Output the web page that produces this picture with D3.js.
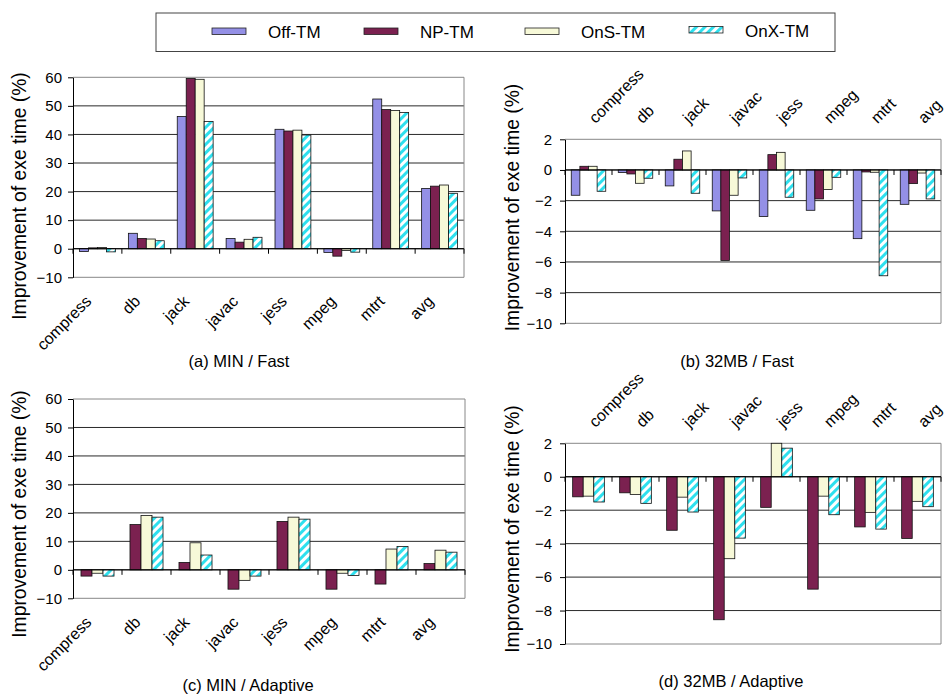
<!DOCTYPE html>
<html><head><meta charset="utf-8">
<script src="https://cdn.jsdelivr.net/npm/d3@7"></script>
<style>body{margin:0;background:#fff;} svg{display:block;font-family:"Liberation Sans",Arial,sans-serif;}</style>
</head><body><svg id="c" width="948" height="694"></svg>
<script>
// ---------- data ----------
const categories = ["compress","db","jack","javac","jess","mpeg","mtrt","avg"];
const seriesNames = ["Off-TM","NP-TM","OnS-TM","OnX-TM"];
const yTicksMin = [-10,0,10,20,30,40,50,60];
const yTicks32 = [-10,-8,-6,-4,-2,0,2];
// (a) MIN / Fast
const aOff = [-1.0, 5.4, 46.3, 3.6, 41.8, -1.3, 52.4, 21.1];
const aNP  = [ 0.3, 3.6, 59.6, 2.3, 41.2, -2.6, 48.7, 21.9];
const aOnS = [ 0.4, 3.4, 59.3, 3.3, 41.5, -0.6, 48.4, 22.3];
const aOnX = [-1.1, 2.8, 44.5, 4.0, 39.8, -1.2, 47.7, 19.4];
// (b) 32MB / Fast
const bOff = [-1.65, -0.17, -1.04, -2.67, -3.04, -2.63, -4.48, -2.24];
const bNP  = [ 0.24, -0.26,  0.70, -5.90,  1.00, -1.89, -0.13, -0.89];
const bOnS = [ 0.24, -0.87,  1.24, -1.65,  1.15, -1.28, -0.15, -0.20];
const bOnX = [-1.39, -0.54, -1.52, -0.52, -1.78, -0.48, -6.90, -1.89];
// (c) MIN / Adaptive
const cNP  = [-2.2, 15.9, 2.6, -6.8, 17.0, -6.8, -5.0, 2.2];
const cOnS = [-1.2, 19.1, 9.5, -3.7, 18.5, -1.2,  7.3, 6.9];
const cOnX = [-2.2, 18.5, 5.2, -2.2, 17.8, -2.0,  8.2, 6.2];
// (d) 32MB / Adaptive
const dNP  = [-1.20, -0.96, -3.20, -8.55, -1.83, -6.72, -3.00, -3.69];
const dOnS = [-1.16, -1.06, -1.22, -4.90,  2.00, -1.16, -2.13, -1.47];
const dOnX = [-1.51, -1.59, -2.11, -3.67,  1.71, -2.27, -3.13, -1.79];
const captions = ["(a) MIN / Fast","(b) 32MB / Fast","(c) MIN / Adaptive","(d) 32MB / Adaptive"];
const yTitle = "Improvement of exe time (%)";

// ---------- styles ----------
const colors = {"Off-TM":"#9490e6","NP-TM":"#7b2150","OnS-TM":"#f7f9d8","OnX-TM":"url(#stripes)"};
const svg = d3.select("#c");
const defs = svg.append("defs");
const pat = defs.append("pattern").attr("id","stripes").attr("patternUnits","userSpaceOnUse")
  .attr("width",6).attr("height",6).attr("patternTransform","rotate(45)");
pat.append("rect").attr("width",6).attr("height",6).attr("fill","#ffffff");
pat.append("rect").attr("width",3).attr("height",6).attr("fill","#2ee0ee");

// ---------- legend ----------
const legendX = [212, 364, 525, 689];
svg.append("rect").attr("x",156).attr("y",13).attr("width",679).attr("height",38.5)
  .attr("fill","#fff").attr("stroke","#444").attr("stroke-width",1);
seriesNames.forEach((s,i)=>{
  const yOff = i===3 ? -1.5 : 0;
  svg.append("rect").attr("x",legendX[i]).attr("y",28+yOff).attr("width",34).attr("height",6.5)
    .attr("fill",colors[s]).attr("stroke","#222").attr("stroke-width",0.8);
  svg.append("text").attr("x",legendX[i]+56).attr("y",38.3+yOff).attr("font-size",17).attr("fill","#000").text(s);
});

// ---------- panels ----------
const panels = [
  {left:73, right:464, top:77.3, bottom:277.3, domain:[-10,60], ticks:yTicksMin, below:true,
   series:[["Off-TM",aOff],["NP-TM",aNP],["OnS-TM",aOnS],["OnX-TM",aOnX]],
   title:[26,196], cap:[239,367], pad:6, caption:captions[0]},
  {left:565, right:941, top:139.3, bottom:323.3, domain:[-10,2], ticks:yTicks32, below:false,
   series:[["Off-TM",bOff],["NP-TM",bNP],["OnS-TM",bOnS],["OnX-TM",bOnX]],
   title:[519,207.5], cap:[737,367], pad:8, caption:captions[1]},
  {left:73, right:465, top:399, bottom:598.3, domain:[-10,60], ticks:yTicksMin, below:true,
   series:[["NP-TM",cNP],["OnS-TM",cOnS],["OnX-TM",cOnX]],
   title:[26,514], cap:[248,691], pad:6, caption:captions[2]},
  {left:565, right:941, top:443.3, bottom:644, domain:[-10,2], ticks:yTicks32, below:false,
   series:[["NP-TM",dNP],["OnS-TM",dOnS],["OnX-TM",dOnX]],
   title:[519,529], cap:[731,687], pad:8, caption:captions[3]}
];

panels.forEach(p=>{
  const g = svg.append("g");
  const y = d3.scaleLinear().domain(p.domain).range([p.bottom,p.top]);
  const x0 = d3.scaleBand().domain(categories).range([p.left,p.right]).padding(0);
  const bw = x0.bandwidth();
  const n = p.series.length;
  const groupW = bw*n/(n+1.45);
  const x1 = d3.scaleBand().domain(p.series.map(s=>s[0])).range([(bw-groupW)/2,(bw+groupW)/2]).padding(0);

  // gridlines
  g.selectAll("line.grid").data(p.ticks.filter(t=>t!==p.domain[0])).enter().append("line")
    .attr("x1",p.left).attr("x2",p.right).attr("y1",d=>y(d)).attr("y2",d=>y(d))
    .attr("stroke",d=>d===p.domain[1]?"#888":"#2a2a2a").attr("stroke-width",1);
  // bottom & right border
  g.append("line").attr("x1",p.left).attr("x2",p.right).attr("y1",y(p.domain[0])).attr("y2",y(p.domain[0]))
    .attr("stroke","#888");
  g.append("line").attr("x1",p.right).attr("x2",p.right).attr("y1",y(p.domain[1])).attr("y2",y(p.domain[0]))
    .attr("stroke","#888");

  // bars
  p.series.forEach(([name,vals])=>{
    g.selectAll(null).data(vals).enter().append("rect")
      .attr("x",(d,i)=>x0(categories[i])+x1(name))
      .attr("width",x1.bandwidth())
      .attr("y",d=>y(Math.max(0,d)))
      .attr("height",d=>Math.abs(y(d)-y(0)))
      .attr("fill",colors[name]).attr("stroke","#111").attr("stroke-width",0.8);
  });

  // zero line with category ticks
  g.append("line").attr("x1",p.left).attr("x2",p.right).attr("y1",y(0)).attr("y2",y(0))
    .attr("stroke","#000").attr("stroke-width",1);
  const bounds = categories.map(c=>x0(c)).concat([p.right]);
  g.selectAll(null).data(bounds).enter().append("line")
    .attr("x1",d=>d).attr("x2",d=>d).attr("y1",y(0)).attr("y2",y(0)+5)
    .attr("stroke","#000");

  // y axis
  const ax = g.append("g").attr("transform",`translate(${p.left},0)`)
    .call(d3.axisLeft(y).tickValues(p.ticks).tickSize(5).tickSizeOuter(0).tickPadding(p.pad));
  ax.select(".domain").attr("stroke","#000");
  ax.selectAll(".tick line").attr("stroke","#000");
  ax.selectAll(".tick text").attr("font-size",15).attr("fill","#000")
    .attr("font-family","'Liberation Sans',Arial,sans-serif");

  // category labels, rotated -45 degrees
  g.selectAll(null).data(categories).enter().append("text")
    .attr("transform",c=> p.below
      ? `translate(${x0(c)+bw/2-5},${p.bottom+25}) rotate(-45)`
      : `translate(${x0(c)+bw/2+7},${p.top-15}) rotate(-45)`)
    .attr("text-anchor",p.below?"end":"start")
    .attr("font-size",16).attr("fill","#000").text(c=>c);

  // y title
  g.append("text").attr("transform",`translate(${p.title[0]},${p.title[1]}) rotate(-90)`)
    .attr("text-anchor","middle").attr("font-size",19.3).attr("fill","#000").text(yTitle);

  // caption
  g.append("text").attr("x",p.cap[0]).attr("y",p.cap[1]).attr("text-anchor","middle")
    .attr("font-size",16.5).attr("fill","#000").text(p.caption);
});
</script></body></html>
